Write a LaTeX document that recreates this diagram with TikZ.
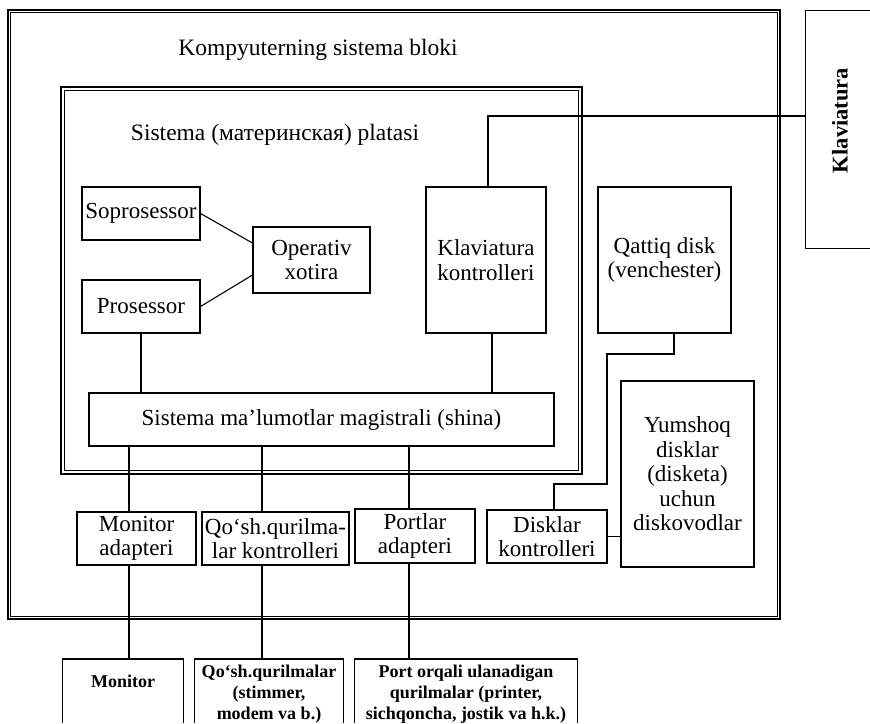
\documentclass[tikz,border=0pt]{standalone}
\usepackage{fontspec}
\setmainfont{Liberation Serif}
\usetikzlibrary{calc}
\begin{document}
\begin{tikzpicture}[x=1pt,y=-1pt,
  box/.style={draw, line width=1.1pt, inner sep=0pt, align=center, font=\fontsize{23}{24.5}\selectfont},
  open/.style={draw=none, inner sep=0pt, anchor=north},
  btext/.style={inner sep=0pt, align=center, font=\fontsize{18}{21}\selectfont\bfseries},
  conn/.style={line width=1.1pt},
  frame/.style={draw, line width=2.4pt, inner sep=0pt},
  framein/.style={line width=0.9pt},
  lbl/.style={inner sep=0pt, font=\fontsize{23.5}{25}\selectfont}]
\useasboundingbox (0,0) rectangle (870,723);

% frames
\node[frame, minimum width=772pt, minimum height=609pt] (outer) at (394,314.5) {};
\draw[framein] ($(outer.north west)+(4,4)$) rectangle ($(outer.south east)+(-4,-4)$);
\node[frame, minimum width=521pt, minimum height=387pt] (board) at (321.5,280.5) {};
\draw[framein] ($(board.north west)+(5,5)$) rectangle ($(board.south east)+(-5,-5)$);

% titles
\node[lbl] (title) at (318,50) {Kompyuterning sistema bloki};
\node[lbl] (mbtitle) at (275,135) {Sistema (материнская) platasi};

% boxes on the board
\node[box, minimum width=118pt, minimum height=53pt] (sop) at (141,213.5) {Soprosessor};
\node[box, minimum width=118pt, minimum height=53pt] (pro) at (141,306.5) {Prosessor};
\node[box, minimum width=117pt, minimum height=66pt] (op) at (311.5,260) {Operativ\\xotira};
\node[box, minimum width=120pt, minimum height=146pt] (kk) at (486,260) {Klaviatura\\kontrolleri};
\node[box, minimum width=465pt, minimum height=53pt] (bus) at (321.5,419.5) {Sistema ma’lumotlar magistrali (shina)};

% boxes in the system block
\node[box, minimum width=133pt, minimum height=146pt] (qd) at (664.5,260) {Qattiq disk\\(venchester)};
\node[box, minimum width=133pt, minimum height=186pt] (ym) at (687.5,474) {Yumshoq\\disklar\\(disketa)\\uchun\\diskovodlar};
\node[box, minimum width=119pt, minimum height=53pt] (ma) at (136.5,538.5) {Monitor\\adapteri};
\node[box, minimum width=147pt, minimum height=53pt] (qk) at (275.5,538.5) {Qo‘sh.qurilma-\\lar kontrolleri};
\node[box, minimum width=120pt, minimum height=54pt] (pa) at (415,536) {Portlar\\adapteri};
\node[box, minimum width=120pt, minimum height=53pt] (dk) at (547,536.5) {Disklar\\kontrolleri};

% keyboard (right edge outside the picture)
\node[draw=none, minimum width=68pt, minimum height=237pt, inner sep=0pt] (kl) at (840,129.5) {};
\draw[conn] (kl.north east) -- (kl.north west) -- (kl.south west) -- (kl.south east);
\node[rotate=90, inner sep=0pt, font=\fontsize{22.5}{24}\selectfont\bfseries] (kltext) at ($(kl.center)+(0,-9)$) {Klaviatura};

% external devices (cut by the lower edge)
\node[open, minimum width=120pt, minimum height=64pt] (mon) at (123,659) {};
\node[open, minimum width=148pt, minimum height=64pt] (qq) at (269,659) {};
\node[open, minimum width=222pt, minimum height=64pt] (po) at (466,659) {};
\draw[conn] (mon.south west) -- (mon.north west) -- (mon.north east) -- (mon.south east);
\draw[conn] (qq.south west) -- (qq.north west) -- (qq.north east) -- (qq.south east);
\draw[conn] (po.south west) -- (po.north west) -- (po.north east) -- (po.south east);
\node[btext] (montext) at ($(mon.north)+(0,22)$) {Monitor};
\node[btext, anchor=north] (qqtext) at ($(qq.north)+(0,6)$) {Qo‘sh.qurilmalar\\(stimmer,\\modem va b.)};
\node[btext, anchor=north] (potext) at ($(po.north)+(0,6)$) {Port orqali ulanadigan\\qurilmalar (printer,\\sichqoncha, jostik va h.k.)};

% connectors
\draw[conn] (sop.east) -- ($(op.west)+(0,-17)$);
\draw[conn] (pro.east) -- ($(op.west)+(0,15)$);
\draw[conn] (pro.south) -- (pro.south |- bus.north);
\coordinate (kkt) at ($(kk.north)+(2,0)$);
\draw[conn] (kkt) |- ($(kl.west)+(0,-13.5)$);
\coordinate (kkb) at ($(kk.south)+(6,0)$);
\draw[conn] (kkb) -- (kkb |- bus.north);

\coordinate (x1) at (129,0);
\coordinate (x2) at (262,0);
\coordinate (x3) at (409,0);
\draw[conn] (bus.south -| x1) -- (ma.north -| x1);
\draw[conn] (bus.south -| x2) -- (qk.north -| x2);
\draw[conn] (bus.south -| x3) -- (pa.north -| x3);
\draw[conn] (ma.south -| x1) -- (mon.north -| x1);
\draw[conn] (qk.south -| x2) -- (qq.north -| x2);
\draw[conn] (pa.south -| x3) -- (po.north -| x3);

\coordinate (x4) at (674,0);
\coordinate (j1) at (607,354);
\coordinate (j2) at (554,484);
\draw[conn] (qd.south -| x4) |- (j1) |- (j2) -- (j2 |- dk.north);
\draw[conn] (dk.east) -- (dk.east -| ym.west);
\end{tikzpicture}
\end{document}
